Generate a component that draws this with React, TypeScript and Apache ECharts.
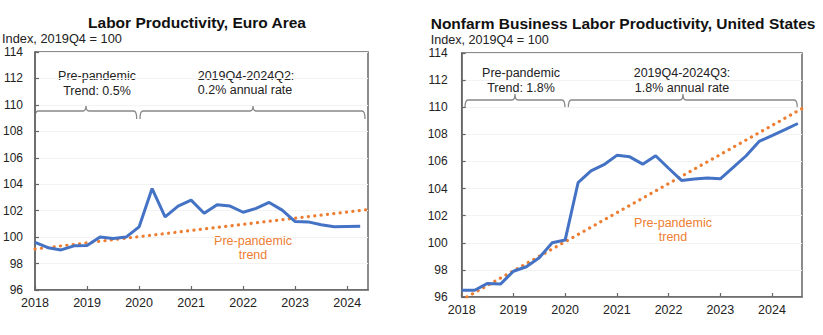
import React, { useEffect, useRef } from "react";
import * as echarts from "echarts";

// ---- Data ----
const quarters = [
  "2018Q1", "2018Q2", "2018Q3", "2018Q4",
  "2019Q1", "2019Q2", "2019Q3", "2019Q4",
  "2020Q1", "2020Q2", "2020Q3", "2020Q4",
  "2021Q1", "2021Q2", "2021Q3", "2021Q4",
  "2022Q1", "2022Q2", "2022Q3", "2022Q4",
  "2023Q1", "2023Q2", "2023Q3", "2023Q4",
  "2024Q1", "2024Q2", "2024Q3",
];

const euroValues = [
  99.6, 99.2, 99.03, 99.34,
  99.36, 100.0, 99.9, 100.0,
  100.77, 103.67, 101.53, 102.35,
  102.8, 101.8, 102.45, 102.35,
  101.88, 102.17, 102.62, 102.04,
  101.18, 101.15, 100.94, 100.78,
  100.81, 100.83,
];

const usValues = [
  96.5, 96.5, 97.0, 96.95,
  97.9, 98.23, 98.9, 100.0,
  100.2, 104.43, 105.3, 105.76,
  106.45, 106.34, 105.8, 106.42,
  105.5, 104.6, 104.7, 104.77,
  104.72, 105.56, 106.42, 107.48,
  107.9, 108.34, 108.8,
];

const euroTrendX = [2018, 2024.4];
const euroTrendY = [99.1, 102.08];
const usTrendX = [2018.1, 2024.58];
const usTrendY = [96.0, 109.9];

const yTicks = { min: 96, max: 114, step: 2 };
const euroXMax = 2024.4;
const usXMax = 2024.58;

const qToX = (q: string) => {
  const y = parseInt(q.slice(0, 4), 10);
  const n = parseInt(q.slice(5), 10);
  return y + (n - 1) / 4;
};

const FONT = "Liberation Sans, Arial, sans-serif";
const BLUE = "#4472C4";
const ORANGE = "#ED7D31";
const FRAME = "#666";

function bracketPath(x1: number, x2: number, xc: number, y: number, drop: number, rise: number) {
  const r = 3;
  return (
    `M ${x1} ${y + drop} Q ${x1} ${y} ${x1 + r} ${y} L ${xc - r} ${y} Q ${xc} ${y} ${xc} ${y - rise} ` +
    `Q ${xc} ${y} ${xc + r} ${y} L ${x2 - r} ${y} Q ${x2} ${y} ${x2} ${y + drop}`
  );
}

export default function App() {
  const ref = useRef<HTMLDivElement>(null);

  useEffect(() => {
    if (!ref.current) return;
    const brackets: [string, string][] = [
      ["brL1", bracketPath(35, 136.7, 86, 111, 8, 5.5)],
      ["brL2", bracketPath(140, 365, 253, 111, 8, 5.5)],
      ["brR1", bracketPath(465, 565, 515, 100, 8, 6)],
      ["brR2", bracketPath(568.3, 797.3, 683, 100, 8, 6)],
    ];
    brackets.forEach(([name, d]) => {
      echarts.graphic.registerShape(name, (echarts.graphic as any).extendPath(d, {}));
    });

    const chart = echarts.init(ref.current, undefined, { renderer: "svg" });

    const euroData = euroValues.map((v, i) => [qToX(quarters[i]), v]);
    const usData = usValues.map((v, i) => [qToX(quarters[i]), v]);
    const euroTrend = euroTrendX.map((x, i) => [x, euroTrendY[i]]);
    const usTrend = usTrendX.map((x, i) => [x, usTrendY[i]]);

    const xAxisBase = (gridIndex: number, max: number) => ({
      type: "value" as const,
      gridIndex,
      min: 2018,
      max,
      interval: 1,
      axisLine: { show: true, lineStyle: { color: FRAME, width: 1.5 } },
      axisTick: { show: true, inside: true, length: 4, lineStyle: { color: FRAME, width: 1.2 } },
      splitLine: { show: false },
      axisLabel: {
        color: "#222",
        fontSize: 12.5,
        fontFamily: FONT,
        margin: 6,
        showMaxLabel: false,
        formatter: (v: number) => (Number.isInteger(v) ? String(v) : ""),
      },
    });
    const yAxisBase = (gridIndex: number, margin: number) => ({
      type: "value" as const,
      gridIndex,
      min: yTicks.min,
      max: yTicks.max,
      interval: yTicks.step,
      axisLine: { show: true, lineStyle: { color: FRAME, width: 1.5 } },
      axisTick: { show: true, inside: true, length: 4, lineStyle: { color: FRAME, width: 1.2 } },
      splitLine: { show: true, lineStyle: { color: "#f3f3f3", width: 1 } },
      axisLabel: {
        color: "#222",
        fontSize: 12,
        fontFamily: FONT,
        margin,
        formatter: (v: number) => String(v),
      },
    });

    const txt = (text: string, x: number, y: number, opts: any = {}) => ({
      type: "text",
      x,
      y,
      silent: true,
      style: {
        text,
        fill: opts.fill || "#222",
        font: `${opts.weight || "normal"} ${opts.size || 12.5}px ${FONT}`,
        textAlign: opts.align || "center",
        textVerticalAlign: "middle",
      },
    });

    chart.setOption({
      animation: false,
      backgroundColor: "#fff",
      grid: [
        { left: 33.5, top: 52, width: 334.5, height: 238, show: true, borderColor: FRAME, borderWidth: 1.5, containLabel: false },
        { left: 461.7, top: 53, width: 340.3, height: 244, show: true, borderColor: FRAME, borderWidth: 1.5, containLabel: false },
      ],
      xAxis: [xAxisBase(0, euroXMax), xAxisBase(1, usXMax)],
      yAxis: [yAxisBase(0, 12), yAxisBase(1, 14)],
      series: [
        {
          type: "line",
          name: "Euro trend",
          xAxisIndex: 0,
          yAxisIndex: 0,
          data: euroTrend,
          showSymbol: false,
          lineStyle: { color: ORANGE, width: 3.2, type: [0.1, 6.3], cap: "round" },
          z: 2,
        },
        {
          type: "line",
          name: "Euro Area",
          xAxisIndex: 0,
          yAxisIndex: 0,
          data: euroData,
          showSymbol: false,
          lineStyle: { color: BLUE, width: 3 },
          z: 3,
        },
        {
          type: "line",
          name: "US trend",
          xAxisIndex: 1,
          yAxisIndex: 1,
          data: usTrend,
          showSymbol: false,
          lineStyle: { color: ORANGE, width: 3.2, type: [0.1, 6.3], cap: "round" },
          z: 2,
        },
        {
          type: "line",
          name: "United States",
          xAxisIndex: 1,
          yAxisIndex: 1,
          data: usData,
          showSymbol: false,
          lineStyle: { color: BLUE, width: 3 },
          z: 3,
        },
      ],
      graphic: [
        txt("Labor Productivity, Euro Area", 197, 22.7, { weight: "bold", size: 15.5, fill: "#111" }),
        txt("Index, 2019Q4 = 100", 2, 38.5, { align: "left", size: 12.8 }),
        txt("Nonfarm Business Labor Productivity, United States", 430.7, 23.3, { weight: "bold", size: 15.5, fill: "#111", align: "left" }),
        txt("Index, 2019Q4 = 100", 430.7, 40, { align: "left", size: 12.6 }),
        txt("Pre-pandemic", 97, 76),
        txt("Trend: 0.5%", 97, 90.5),
        txt("2019Q4-2024Q2:", 246, 75.5),
        txt("0.2% annual rate", 245, 89.5),
        txt("Pre-pandemic", 521, 72.7),
        txt("Trend: 1.8%", 521, 88.3),
        txt("2019Q4-2024Q3:", 682, 72.7),
        txt("1.8% annual rate", 682, 88.3),
        txt("Pre-pandemic", 253, 241, { fill: ORANGE }),
        txt("trend", 253, 255, { fill: ORANGE }),
        txt("Pre-pandemic", 673, 223.3, { fill: ORANGE }),
        txt("trend", 673, 237.3, { fill: ORANGE }),
        ...brackets.map(([name]) => ({
          type: name,
          x: 0,
          y: 0,
          silent: true,
          style: { fill: "none", stroke: "#888", lineWidth: 1.3 },
        })),
      ],
    });

    return () => chart.dispose();
  }, []);

  return (
    <div
      ref={ref}
      style={{ position: "fixed", left: 0, top: 0, width: 823, height: 335, background: "#fff" }}
    />
  );
}
